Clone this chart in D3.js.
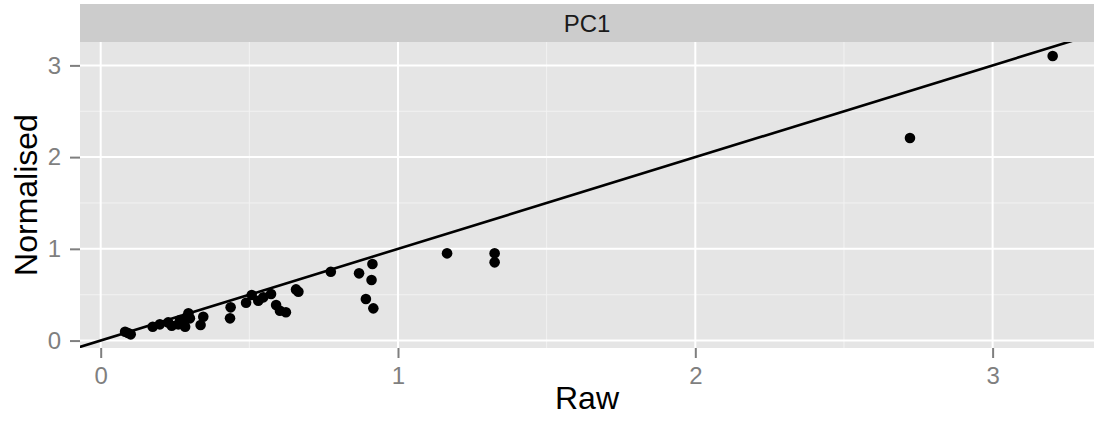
<!DOCTYPE html>
<html lang="en">
<head>
<meta charset="UTF-8">
<title>PC1 raw vs normalised</title>
<script src="https://d3js.org/d3.v7.min.js"></script>
<style>
    body { margin: 0; background: #fff; }
    svg { display: block; font-family: "Liberation Sans", Arial, sans-serif; }
    .major { stroke: #fff; stroke-width: 2px; }
    .minor { stroke: #f2f2f2; stroke-width: 1px; }
    .tick line { stroke: #7f7f7f; stroke-width: 2px; }
    .tick text { fill: #7f7f7f; font-size: 24px; }
</style>
</head>
<body>
<svg width="1098" height="425"></svg>
<script>
// values
var panelName = "PC1";
var raw  = [0.082, 0.092, 0.101, 0.175, 0.199, 0.227, 0.239, 0.261, 0.267, 0.284,
            0.289, 0.295, 0.300, 0.336, 0.345, 0.435, 0.437, 0.489, 0.508, 0.530,
            0.547, 0.573, 0.590, 0.603, 0.623, 0.657, 0.665, 0.774, 0.869, 0.892,
            0.911, 0.914, 0.917, 1.165, 1.325, 1.325, 2.722, 3.202];
var norm = [0.096, 0.082, 0.068, 0.150, 0.177, 0.198, 0.161, 0.177, 0.224, 0.150,
            0.253, 0.297, 0.242, 0.169, 0.260, 0.242, 0.362, 0.412, 0.496, 0.434,
            0.471, 0.507, 0.387, 0.325, 0.308, 0.558, 0.532, 0.750, 0.733, 0.453,
            0.660, 0.834, 0.351, 0.951, 0.951, 0.853, 2.208, 3.102];
var xTicks = [0, 1, 2, 3];
var yTicks = [0, 1, 2, 3];
var xMinor = [0.5, 1.5, 2.5];
var yMinor = [0.5, 1.5, 2.5];

function drawChart() {
    var points = raw.map((r, i) => ({raw: r, norm: norm[i]}));

    var pLeft = 80, pRight = 1094, pTop = 42, pBottom = 348, stripTop = 4;

    var x = d3.scaleLinear().domain([-0.0696, 3.341]).range([pLeft, pRight]);
    var y = d3.scaleLinear().domain([-0.081, 3.255]).range([pBottom, pTop]);

    var svg = d3.select("svg");

    // strip
    svg.append("rect")
        .attr("x", pLeft).attr("y", stripTop)
        .attr("width", pRight - pLeft).attr("height", pTop - stripTop)
        .attr("fill", "#cccccc");
    svg.append("text")
        .attr("x", (pLeft + pRight) / 2).attr("y", 32)
        .attr("text-anchor", "middle")
        .style("font-size", "24px").attr("fill", "#1a1a1a")
        .text(panelName);

    // panel
    svg.append("rect")
        .attr("x", pLeft).attr("y", pTop)
        .attr("width", pRight - pLeft).attr("height", pBottom - pTop)
        .attr("fill", "#e5e5e5");

    svg.append("clipPath").attr("id", "clip")
        .append("rect")
        .attr("x", pLeft).attr("y", pTop)
        .attr("width", pRight - pLeft).attr("height", pBottom - pTop);

    var grid = svg.append("g");
    grid.selectAll("line.xminor").data(xMinor).enter().append("line")
        .attr("class", "minor")
        .attr("x1", d => x(d)).attr("x2", d => x(d))
        .attr("y1", pTop).attr("y2", pBottom);
    grid.selectAll("line.yminor").data(yMinor).enter().append("line")
        .attr("class", "minor")
        .attr("x1", pLeft).attr("x2", pRight)
        .attr("y1", d => y(d)).attr("y2", d => y(d));
    grid.selectAll("line.xmajor").data(xTicks).enter().append("line")
        .attr("class", "major")
        .attr("x1", d => x(d)).attr("x2", d => x(d))
        .attr("y1", pTop).attr("y2", pBottom);
    grid.selectAll("line.ymajor").data(yTicks).enter().append("line")
        .attr("class", "major")
        .attr("x1", pLeft).attr("x2", pRight)
        .attr("y1", d => y(d)).attr("y2", d => y(d));

    // identity line
    var plot = svg.append("g").attr("clip-path", "url(#clip)");
    plot.append("line")
        .attr("x1", x(-0.2)).attr("y1", y(-0.2))
        .attr("x2", x(3.5)).attr("y2", y(3.5))
        .attr("stroke", "#000").attr("stroke-width", 2.6);

    plot.selectAll("circle")
        .data(points)
        .enter()
        .append("circle")
        .attr("cx", d => x(d.raw))
        .attr("cy", d => y(d.norm))
        .attr("r", 5.3)
        .attr("fill", "#000");

    // axes
    var xAxis = d3.axisBottom(x).tickValues(xTicks).tickSize(10).tickPadding(9).tickFormat(d3.format("d"));
    var yAxis = d3.axisLeft(y).tickValues(yTicks).tickSize(10).tickPadding(9).tickFormat(d3.format("d"));

    svg.append("g").attr("transform", "translate(0," + pBottom + ")").call(xAxis)
        .call(g => g.select(".domain").remove());
    svg.append("g").attr("transform", "translate(" + pLeft + ",0)").call(yAxis)
        .call(g => g.select(".domain").remove());

    // titles
    svg.append("text")
        .attr("x", (pLeft + pRight) / 2).attr("y", 409)
        .attr("text-anchor", "middle")
        .style("font-size", "32px").attr("fill", "#000")
        .text("Raw");
    svg.append("text")
        .attr("transform", "translate(37," + (pTop + pBottom) / 2 + ") rotate(-90)")
        .attr("text-anchor", "middle")
        .style("font-size", "32px").attr("fill", "#000")
        .text("Normalised");
}
drawChart();
</script>
</body>
</html>
